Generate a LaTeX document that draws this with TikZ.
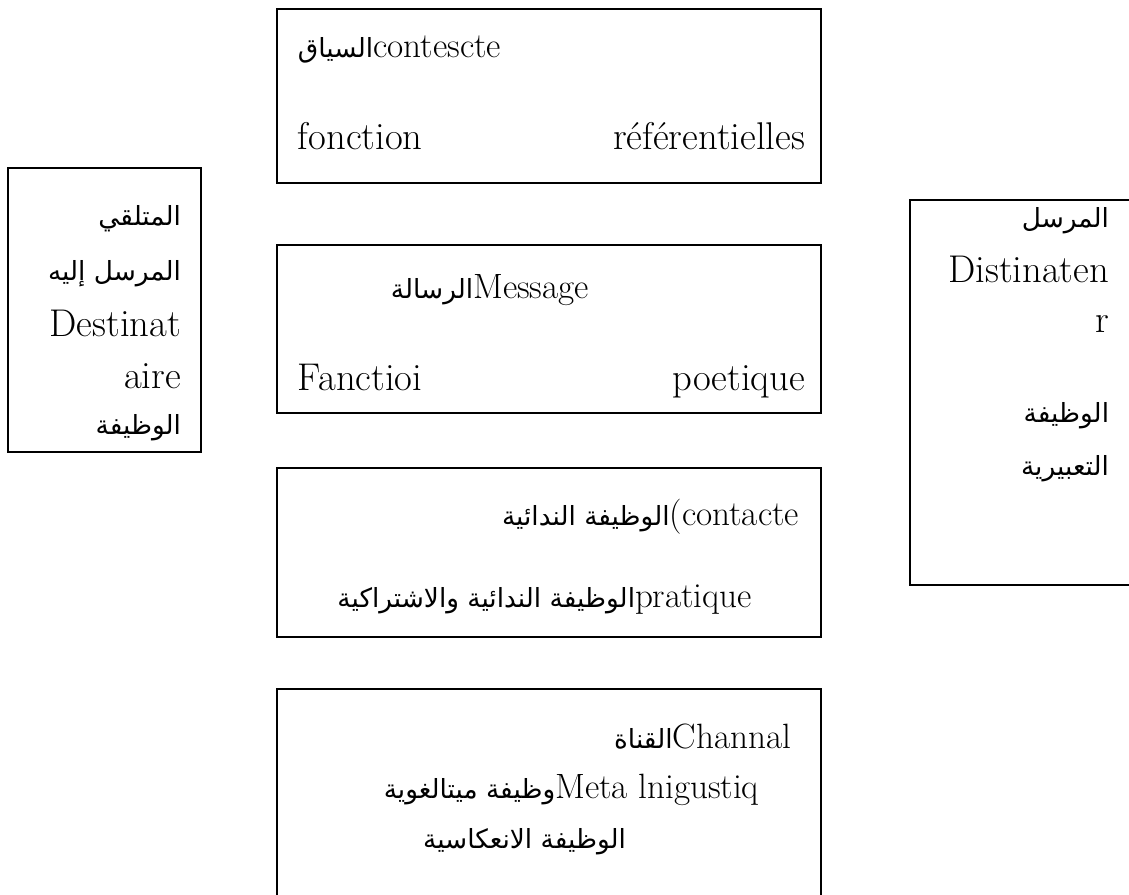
\documentclass[tikz,border=0pt]{standalone}
\usepackage{fontspec}
\newfontfamily\arabicfont[Script=Arabic]{DejaVu Sans}
\TeXXeTstate=1
\newcommand{\artxt}[1]{{\arabicfont\fontsize{15}{18}\selectfont\beginR #1\endR}}

\begin{document}
\begin{tikzpicture}[x=0.02cm, y=-0.02cm, line width=1.1pt,
  every node/.style={inner sep=0pt, font=\fontsize{20}{24}\selectfont},
  big/.style={font=\fontsize{22}{26}\selectfont}]
  \clip (0,0) rectangle (1129,895);

  % boxes
  \draw (277,9) rectangle (821,183);
  \draw (277,245) rectangle (821,413);
  \draw (277,468) rectangle (821,637);
  \draw (277,689) rectangle (821,930);
  \draw (8,168) rectangle (201,452);
  \draw (1160,200) -- (910,200) -- (910,585) -- (1160,585);

  % contexte
  \node[anchor=base west] (ctx) at (297,58) {\artxt{السياق}contescte};
  \node[anchor=base west, big] (ctxf) at (297,150) {fonction};
  \node[anchor=base east, big] (ctxr) at (806,150) {référentielles};

  % message
  \node[anchor=base west] (msg) at (390,298) {\artxt{الرسالة}Message};
  \node[anchor=base west, big] (msgf) at (297,390) {Fanctioi};
  \node[anchor=base east, big] (msgp) at (806,390) {poetique};

  % contact
  \node[anchor=base east] (cnt) at (800,525) {\artxt{الوظيفة الندائية}(contacte};
  \node[anchor=base east] (cntp) at (753,607) {\artxt{الوظيفة الندائية والاشتراكية}pratique};

  % canal
  \node[anchor=base east] (chn) at (792,748) {\artxt{القناة}Channal};
  \node[anchor=base east] (chnm) at (760,798) {\artxt{وظيفة ميتالغوية}Meta lnigustiq};
  \node[anchor=base east] (chnr) at (627,848) {\artxt{الوظيفة الانعكاسية}};

  % destinataire
  \node[anchor=base east] (dst1) at (182,226) {\artxt{المتلقي}};
  \node[anchor=base east] (dst2) at (182,280) {\artxt{المرسل إليه}};
  \node[anchor=base east, big] (dst3) at (182,336) {Destinat};
  \node[anchor=base east, big] (dst4) at (182,388) {aire};
  \node[anchor=base east] (dst5) at (182,434) {\artxt{الوظيفة}};

  % destinateur
  \node[anchor=base east] (snd1) at (1110,228) {\artxt{المرسل}};
  \node[anchor=base east, big] (snd2) at (1110,282) {Distinaten};
  \node[anchor=base east, big] (snd3) at (1110,332) {r};
  \node[anchor=base east] (snd4) at (1110,422) {\artxt{الوظيفة}};
  \node[anchor=base east] (snd5) at (1110,475) {\artxt{التعبيرية}};
\end{tikzpicture}
\end{document}
